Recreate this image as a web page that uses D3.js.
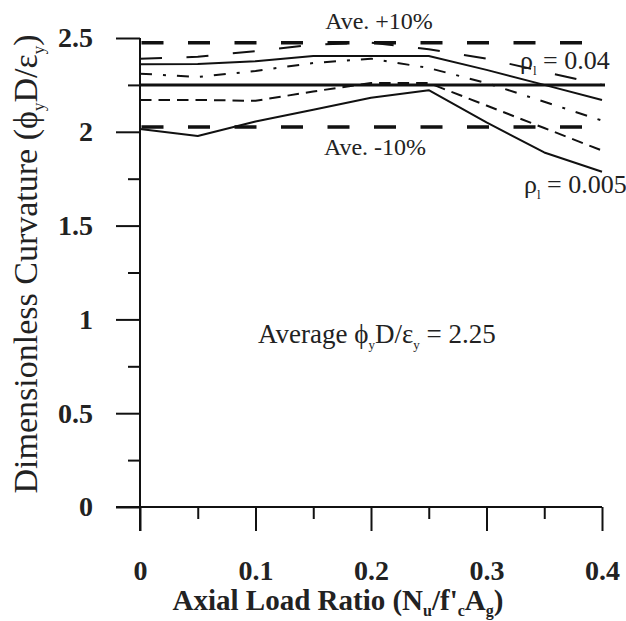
<!DOCTYPE html>
<html>
<head>
<meta charset="utf-8">
<script src="https://cdn.jsdelivr.net/npm/d3@7"></script>
<style>
html,body{margin:0;padding:0;background:#fff;}
svg{display:block;}
</style>
</head>
<body>
<svg id="chart" width="626" height="621"></svg>
<script>
// ---- data ----
const axialLoad = [0, 0.05, 0.1, 0.15, 0.2, 0.25, 0.3, 0.35, 0.4];
const rho004 = [2.39, 2.40, 2.43, 2.465, 2.475, 2.44, 2.39, 2.32, 2.25];   // medium dash
const rhoB   = [2.36, 2.362, 2.376, 2.404, 2.404, 2.404, 2.33, 2.25, 2.17]; // solid
const rhoC   = [2.31, 2.292, 2.324, 2.367, 2.39, 2.34, 2.26, 2.16, 2.06];  // dash-dot
const rhoD   = [2.17, 2.17, 2.165, 2.215, 2.26, 2.26, 2.14, 2.02, 1.90];   // short dash
const rho0005 = [2.015, 1.978, 2.055, 2.118, 2.182, 2.222, 2.05, 1.89, 1.787]; // solid
const average = 2.25;
const upper = 2.475;  // +10%
const lower = 2.025;  // -10%
const xTicks = [0, 0.1, 0.2, 0.3, 0.4];
const xMinor = [0.05, 0.15, 0.25, 0.35];
const yTicks = [0, 0.5, 1, 1.5, 2, 2.5];
const yMinor = [0.25, 0.75, 1.25, 1.75, 2.25];

const SERIF = '"Liberation Serif", "Times New Roman", serif';
const TXT = "#222";

const svg = d3.select("#chart");
svg.append("rect").attr("width", 626).attr("height", 621).attr("fill", "#fff");

const x = d3.scaleLinear().domain([0, 0.4]).range([140, 602]);
const y = d3.scaleLinear().domain([0, 2.5]).range([507, 38]);

// axes
const xAxisMaj = d3.axisBottom(x).tickValues(xTicks).tickSize(24).tickPadding(29)
  .tickFormat(d => d === 0 ? "0" : d3.format(".1f")(d));
const gx = svg.append("g").attr("transform", `translate(0,${y(0)})`).call(xAxisMaj);
const gxm = svg.append("g").attr("transform", `translate(0,${y(0)})`)
  .call(d3.axisBottom(x).tickValues(xMinor).tickSize(12).tickFormat(""));
const yAxisMaj = d3.axisLeft(y).tickValues(yTicks).tickSize(24).tickPadding(23)
  .tickFormat(d => d3.format("")(d));
const gy = svg.append("g").attr("transform", `translate(${x(0)},0)`).call(yAxisMaj);
const gym = svg.append("g").attr("transform", `translate(${x(0)},0)`)
  .call(d3.axisLeft(y).tickValues(yMinor).tickSize(12).tickFormat(""));

[gx, gxm, gy, gym].forEach(g => {
  g.selectAll(".domain").remove();
  g.selectAll(".tick line").attr("stroke", "#111").attr("stroke-width", 2);
  g.selectAll(".tick text").style("font-size", "28px").style("font-weight", "bold")
    .style("font-family", SERIF).style("fill", TXT);
});
// axis lines
svg.append("line").attr("x1", x(0) - 24).attr("x2", x(0.4)).attr("y1", y(0)).attr("y2", y(0))
  .attr("stroke", "#111").attr("stroke-width", 2);
svg.append("line").attr("x1", x(0)).attr("x2", x(0)).attr("y1", y(2.5)).attr("y2", y(0) + 24)
  .attr("stroke", "#111").attr("stroke-width", 2);

// reference lines
const hline = (v, w, dash) => {
  const l = svg.append("line").attr("x1", x(0)).attr("x2", x(0.4) + 3)
    .attr("y1", y(v)).attr("y2", y(v)).attr("stroke", "#111").attr("stroke-width", w);
  if (dash) l.attr("stroke-dasharray", dash);
  return l;
};
hline(upper, 3.5, "22,24.5").attr("stroke-dashoffset", -1.5);
hline(lower, 3.5, "22,24.5").attr("stroke-dashoffset", -1.5);
hline(average, 3, null);

// series
const line = d3.line().x((d, i) => x(axialLoad[i])).y(d => y(d));
const series = [
  {v: rho004, dash: "22,24.5", w: 2},
  {v: rhoB, dash: null, w: 2},
  {v: rhoC, dash: "12,11,3,11", w: 2},
  {v: rhoD, dash: "11.5,7", w: 2},
  {v: rho0005, dash: null, w: 2}
];
series.forEach(s => {
  const p = svg.append("path").attr("d", line(s.v)).attr("fill", "none")
    .attr("stroke", "#111").attr("stroke-width", s.w).attr("stroke-linejoin", "round");
  if (s.dash) p.attr("stroke-dasharray", s.dash);
});

// annotations
const ann = (xx, yy, size, anchor) => svg.append("text").attr("x", xx).attr("y", yy)
  .style("font-family", SERIF).style("fill", TXT).style("font-size", size + "px")
  .attr("text-anchor", anchor || "start");
ann(379, 29, 24, "middle").text("Ave. +10%");
ann(375, 155, 24, "middle").text("Ave. -10%");

const rhoLabel = (xx, yy, val) => {
  const t = ann(xx, yy, 26);
  t.append("tspan").text("ρ");
  t.append("tspan").style("font-size", "13px").attr("dy", 6).text("l");
  t.append("tspan").attr("dy", -6).text(" = " + val);
};
rhoLabel(520, 69, "0.04");
rhoLabel(524, 193, "0.005");

const avg = ann(258, 343, 27);
avg.append("tspan").text("Average ϕ");
avg.append("tspan").style("font-size", "13px").attr("dy", 6).text("y");
avg.append("tspan").attr("dy", -6).text("D/ε");
avg.append("tspan").style("font-size", "13px").attr("dy", 6).text("y");
avg.append("tspan").attr("dy", -6).text(" = " + average);

// axis titles
const xt = svg.append("text").attr("x", 338).attr("y", 610).attr("text-anchor", "middle")
  .style("font-family", SERIF).style("fill", TXT).style("font-size", "29px").style("font-weight", "bold");
xt.append("tspan").text("Axial Load Ratio (N");
xt.append("tspan").style("font-size", "16px").attr("dy", 6).text("u");
xt.append("tspan").attr("dy", -6).text("/f'");
xt.append("tspan").style("font-size", "16px").attr("dy", 6).text("c");
xt.append("tspan").attr("dy", -6).text("A");
xt.append("tspan").style("font-size", "16px").attr("dy", 6).text("g");
xt.append("tspan").attr("dy", -6).text(")");

const yt = svg.append("text").attr("transform", "translate(37,264) rotate(-90)")
  .attr("text-anchor", "middle")
  .style("font-family", SERIF).style("fill", TXT).style("font-size", "34px");
yt.append("tspan").text("Dimensionless Curvature (ϕ");
yt.append("tspan").style("font-size", "17px").attr("dy", 7).text("y");
yt.append("tspan").attr("dy", -7).text("D/ε");
yt.append("tspan").style("font-size", "17px").attr("dy", 7).text("y");
yt.append("tspan").attr("dy", -7).text(")");
</script>
</body>
</html>
